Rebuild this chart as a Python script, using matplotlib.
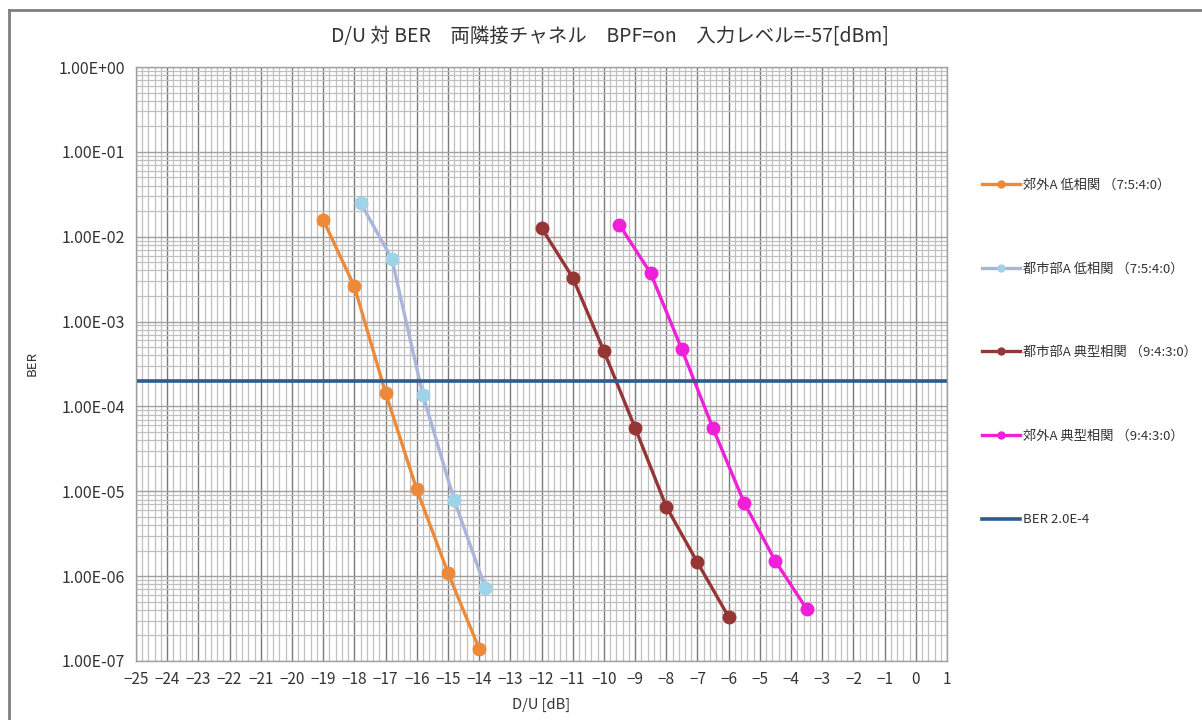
import numpy as np
import matplotlib
matplotlib.use("Agg")
from matplotlib import pyplot as plt
from matplotlib.lines import Line2D
from matplotlib.ticker import FixedLocator, FixedFormatter, MultipleLocator, LogLocator, NullFormatter

plt.rcParams['font.family'] = ['Noto Sans CJK JP', 'DejaVu Sans']

# data
du_suburb_low = [-19, -18, -17, -16, -15, -14]
ber_suburb_low = [1.58e-2, 2.6e-3, 1.45e-4, 1.05e-5, 1.1e-6, 1.4e-7]

du_urban_low = [-17.8, -16.8, -15.8, -14.8, -13.8]
ber_urban_low = [2.5e-2, 5.5e-3, 1.35e-4, 7.9e-6, 7.3e-7]

du_urban_typ = [-12, -11, -10, -9, -8, -7, -6]
ber_urban_typ = [1.27e-2, 3.3e-3, 4.5e-4, 5.6e-5, 6.6e-6, 1.45e-6, 3.3e-7]

du_suburb_typ = [-9.5, -8.5, -7.5, -6.5, -5.5, -4.5, -3.5]
ber_suburb_typ = [1.38e-2, 3.7e-3, 4.7e-4, 5.5e-5, 7.3e-6, 1.5e-6, 4.1e-7]

ber_limit = 2.0e-4

labels = ["郊外A 低相関 （7:5:4:0）", "都市部A 低相関 （7:5:4:0）",
          "都市部A 典型相関 （9:4:3:0）", "郊外A 典型相関 （9:4:3:0）", "BER 2.0E-4"]
ytick_vals = [1e0, 1e-1, 1e-2, 1e-3, 1e-4, 1e-5, 1e-6, 1e-7]
ytick_labels = ["1.00E+00", "1.00E-01", "1.00E-02", "1.00E-03",
                "1.00E-04", "1.00E-05", "1.00E-06", "1.00E-07"]
xticks = list(range(-25, 2))

fig = plt.figure(figsize=(12.02, 7.2), dpi=100)
ax = fig.add_axes([136/1202, 1-661/720, (947-136)/1202, (661-67)/720])

ax.set_yscale("log")
ax.set_xlim(-25, 1)
ax.set_ylim(1e-7, 1e0)

ax.xaxis.set_major_locator(FixedLocator(xticks))
ax.xaxis.set_minor_locator(MultipleLocator(0.2))
ax.yaxis.set_major_locator(FixedLocator(ytick_vals))
ax.yaxis.set_major_formatter(FixedFormatter(ytick_labels))
ax.yaxis.set_minor_locator(LogLocator(base=10, subs=np.arange(2, 10), numticks=20))
ax.yaxis.set_minor_formatter(NullFormatter())

ax.grid(which="minor", color="#c0c0c0", linewidth=0.9)
ax.grid(which="major", axis="x", color="#7a7a7a", linewidth=1.0)
ax.grid(which="major", axis="y", color="#a0a0a0", linewidth=1.0)
ax.set_axisbelow(True)
ax.tick_params(which="both", length=0)
ax.tick_params(axis="y", labelsize=11.5, colors="#333333", pad=8)
ax.tick_params(axis="x", labelsize=11, colors="#333333", pad=7)
for s in ax.spines.values():
    s.set_color("#a0a0a0")
    s.set_linewidth(1.0)

ms = 9
ax.plot(du_suburb_low, ber_suburb_low, color="#ED8A3A", lw=2.4, marker="o",
        ms=ms, mfc="#ED8A3A", mec="#ED8A3A")
ax.plot(du_urban_low, ber_urban_low, color="#A9B5DA", lw=2.4, marker="o",
        ms=ms, mfc="#9ED3EA", mec="#9ED3EA")
ax.plot(du_urban_typ, ber_urban_typ, color="#963634", lw=2.4, marker="o",
        ms=ms, mfc="#963634", mec="#963634")
ax.plot(du_suburb_typ, ber_suburb_typ, color="#F020D8", lw=2.4, marker="o",
        ms=ms, mfc="#F020D8", mec="#F020D8")
ax.axhline(ber_limit, color="#2E5A8C", lw=2.6)

ax.set_xlabel("D/U [dB]", fontsize=10.5, color="#333333", labelpad=7)
ax.set_ylabel("BER", fontsize=9.5, color="#333333", labelpad=14)
fig.text(610/1202, 1-37/720, "D/U 対 BER　両隣接チャネル　BPF=on　入力レベル=-57[dBm]",
         ha="center", va="center", fontsize=14, color="#333333")

handles = [
    Line2D([], [], color="#ED8A3A", lw=2.4, marker="o", ms=5),
    Line2D([], [], color="#A9B5DA", lw=2.4, marker="o", ms=5, mfc="#9ED3EA", mec="#9ED3EA"),
    Line2D([], [], color="#963634", lw=2.4, marker="o", ms=5),
    Line2D([], [], color="#F020D8", lw=2.4, marker="o", ms=5),
    Line2D([], [], color="#2E5A8C", lw=2.6),
]
fig.legend(handles, labels, loc="upper left", bbox_to_anchor=(970/1202, 1-167/720),
           frameon=False, fontsize=9.5, labelspacing=5.35, handlelength=2.9,
           handletextpad=0.2, labelcolor="#333333")

# outer frame of the screenshot
fig.add_artist(Line2D([9/1202, 1], [1-10/720, 1-10/720], color="#7f7f7f", lw=2))
fig.add_artist(Line2D([9/1202, 9/1202], [0, 1-10/720], color="#7f7f7f", lw=2))

fig.savefig("out.png", dpi=100)
